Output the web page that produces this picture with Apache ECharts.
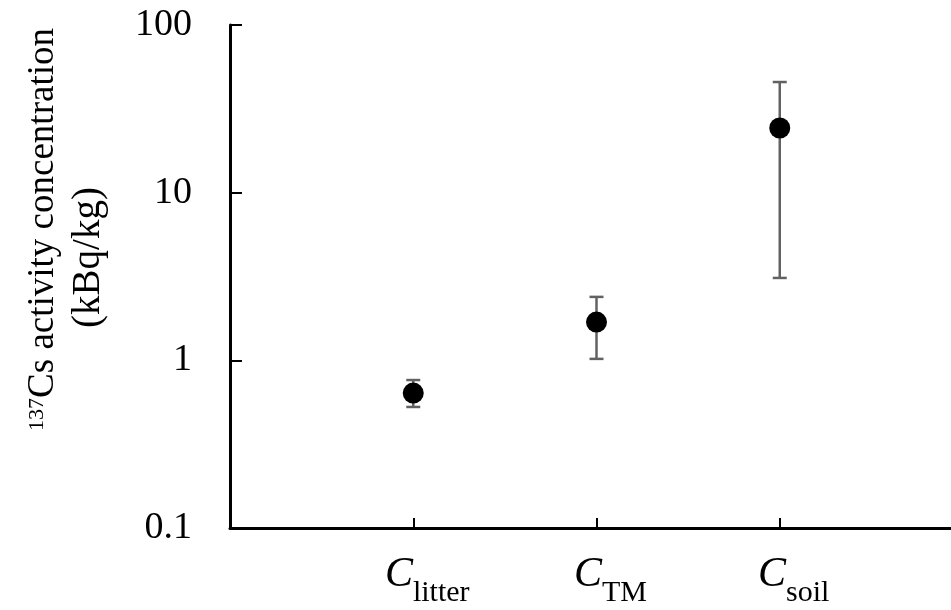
<!DOCTYPE html>
<html>
<head>
<meta charset="utf-8">
<script src="https://cdn.jsdelivr.net/npm/echarts@6/dist/echarts.min.js"></script>
<style>
  html, body { margin: 0; padding: 0; background: #fff; }
  #chart { width: 951px; height: 610px; }
</style>
</head>
<body>
<div id="chart"></div>
<script>
// data
var categories = ['', 'litter', 'TM', 'soil', ''];
var pointCats = ['litter', 'TM', 'soil'];
var meanValues = [0.638, 1.69, 24.3];
var lowValues = [0.527, 1.02, 3.10];
var highValues = [0.763, 2.39, 45.7];
var yTicks = [0.1, 1, 10, 100];

var serif = 'Liberation Serif';

var points = [];
var bars = [];
pointCats.forEach(function (c, i) {
    points.push([c, meanValues[i]]);
    bars.push([c, lowValues[i], highValues[i]]);
});

var chart = echarts.init(document.getElementById('chart'));
chart.setOption({
    animation: false,
    grid: {left: 230, right: -12, top: 25, bottom: 82, outerBoundsMode: 'none'},
    xAxis: {
        type: 'category',
        data: categories,
        boundaryGap: false,
        axisLine: {lineStyle: {color: '#000', width: 3}},
        axisTick: {
            inside: true,
            length: 10,
            lineStyle: {color: '#000', width: 2},
            interval: function (i, v) { return v !== ''; }
        },
        axisLabel: {
            interval: 0,
            margin: 36,
            padding: [0, 0, 0, 28],
            formatter: function (v) { return v ? '{c|C}{s|' + v + '}' : ''; },
            rich: {
                c: {fontFamily: serif, fontStyle: 'italic', fontSize: 42, color: '#000',
                    lineHeight: 44, verticalAlign: 'bottom', padding: [0, 0, 12, 0]},
                s: {fontFamily: serif, fontSize: 30, color: '#000',
                    lineHeight: 32, verticalAlign: 'bottom'}
            }
        },
        splitLine: {show: false}
    },
    yAxis: {
        type: 'log',
        logBase: 10,
        min: yTicks[0],
        max: yTicks[yTicks.length - 1],
        axisLine: {show: true, lineStyle: {color: '#000', width: 3}},
        axisTick: {show: true, inside: true, length: 12, lineStyle: {color: '#000', width: 2}},
        axisLabel: {
            margin: 38,
            fontFamily: serif,
            fontSize: 38,
            color: '#000',
            formatter: function (v) { return String(v); }
        },
        splitLine: {show: false},
        minorTick: {show: false},
        name: '{sup|137}{n|Cs activity concentration}\n{m|(kBq/kg)}',
        nameLocation: 'middle',
        nameRotate: 90,
        nameGap: 118,
        nameTextStyle: {
            padding: [0, 0, 0, 94],
            rich: {
                sup: {fontFamily: serif, fontSize: 22, color: '#000', lineHeight: 46,
                      verticalAlign: 'top', padding: [6, 0, 0, 0]},
                n: {fontFamily: serif, fontSize: 37, color: '#000', lineHeight: 46},
                m: {fontFamily: serif, fontSize: 39, color: '#000', lineHeight: 46,
                    padding: [0, 56, 0, 0]}
            }
        }
    },
    series: [
        {
            type: 'custom',
            z: 1,
            data: bars,
            encode: {x: 0, y: [1, 2]},
            renderItem: function (params, api) {
                var lo = api.coord([api.value(0), api.value(1)]);
                var hi = api.coord([api.value(0), api.value(2)]);
                var w = 7;
                var style = {stroke: '#626262', lineWidth: 2.5};
                return {
                    type: 'group',
                    children: [
                        {type: 'line', shape: {x1: lo[0], y1: lo[1], x2: hi[0], y2: hi[1]}, style: style},
                        {type: 'line', shape: {x1: lo[0] - w, y1: lo[1], x2: lo[0] + w, y2: lo[1]}, style: style},
                        {type: 'line', shape: {x1: hi[0] - w, y1: hi[1], x2: hi[0] + w, y2: hi[1]}, style: style}
                    ]
                };
            }
        },
        {
            type: 'scatter',
            z: 2,
            data: points,
            symbol: 'circle',
            symbolSize: 21,
            itemStyle: {color: '#000', opacity: 1}
        }
    ]
});
</script>
</body>
</html>
